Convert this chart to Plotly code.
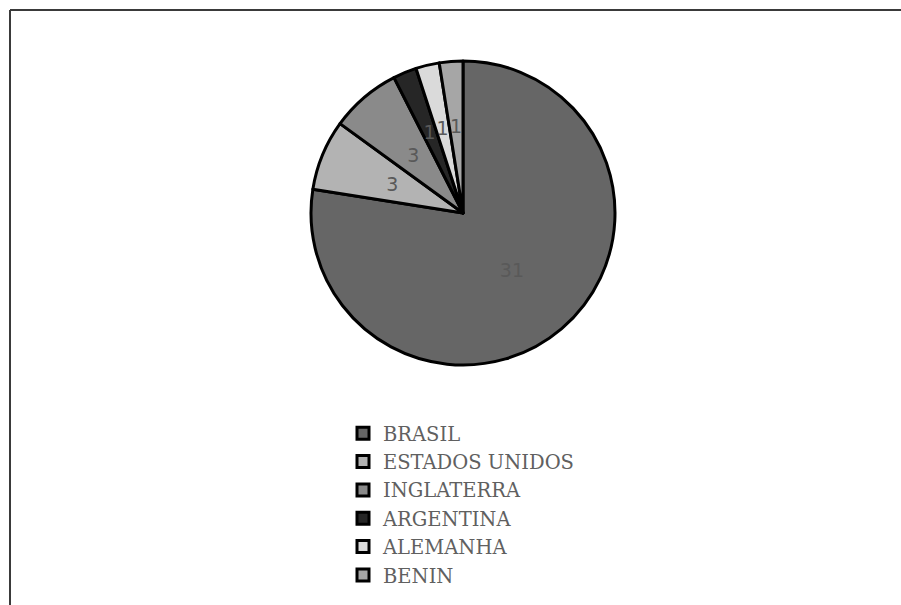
import plotly.graph_objects as go

# Country counts shown as pie slices
countries = ["BRASIL", "ESTADOS UNIDOS", "INGLATERRA", "ARGENTINA", "ALEMANHA", "BENIN"]
counts = [31, 3, 3, 1, 1, 1]
slice_colors = ["#666666", "#b3b3b3", "#8a8a8a", "#262626", "#dadada", "#a6a6a6"]

W, H = 901, 605
cx, cy, r = 463, 213, 152


def domain_for(radius):
    return dict(
        x=[(cx - radius) / W, (cx + radius) / W],
        y=[1 - (cy + radius) / H, 1 - (cy - radius) / H],
    )


fig = go.Figure()

# filled slices with black outlines
fig.add_trace(
    go.Pie(
        labels=countries,
        values=counts,
        sort=False,
        direction="clockwise",
        rotation=0,
        marker=dict(colors=slice_colors, line=dict(color="#000000", width=3)),
        textinfo="none",
        hoverinfo="label+value",
        domain=domain_for(r),
    )
)

# transparent ring carrying the value labels at mid-radius
label_r = 0.62 * r
fig.add_trace(
    go.Pie(
        labels=countries,
        values=counts,
        sort=False,
        direction="clockwise",
        rotation=0,
        hole=0.6,
        marker=dict(colors=["rgba(0,0,0,0)"] * len(counts),
                    line=dict(width=0)),
        textinfo="value",
        textposition="inside",
        insidetextorientation="horizontal",
        textfont=dict(family="DejaVu Sans", size=19, color="#595959"),
        hoverinfo="skip",
        showlegend=False,
        domain=domain_for(label_r),
    )
)

fig.update_layout(
    width=W,
    height=H,
    margin=dict(l=0, r=0, t=0, b=0),
    paper_bgcolor="white",
    plot_bgcolor="white",
    uniformtext=dict(minsize=19, mode="show"),
    legend=dict(
        x=343 / W,
        xanchor="left",
        y=1 - 414 / H,
        yanchor="top",
        font=dict(family="DejaVu Serif", size=19.5, color="#606060"),
        bgcolor="rgba(0,0,0,0)",
        traceorder="normal",
    ),
    shapes=[
        # frame lines along the top and left edges
        dict(type="line", xref="paper", yref="paper",
             x0=10 / W, x1=1.0, y0=1 - 10 / H, y1=1 - 10 / H,
             line=dict(color="#3a3a3a", width=2)),
        dict(type="line", xref="paper", yref="paper",
             x0=10 / W, x1=10 / W, y0=0, y1=1 - 10 / H,
             line=dict(color="#3a3a3a", width=2)),
    ],
)

fig.write_html("out.html")
